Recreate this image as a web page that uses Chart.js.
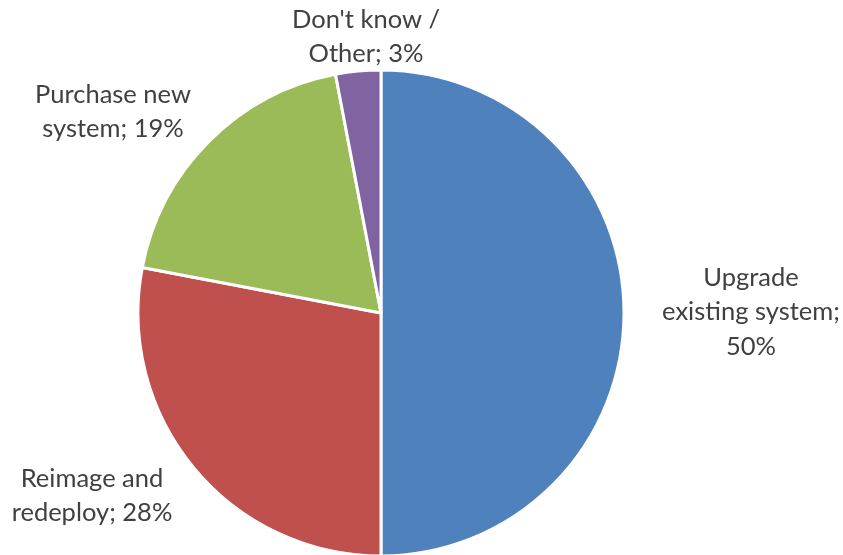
<!DOCTYPE html>
<html>
<head>
<meta charset="utf-8">
<script src="https://cdn.jsdelivr.net/npm/chart.js@4/dist/chart.umd.min.js"></script>
<style>
html,body{margin:0;padding:0;background:#fff;overflow:hidden;}
#wrap{position:relative;width:843px;height:555px;}
</style>
</head>
<body>
<div id="wrap"><canvas id="c" width="843" height="555"></canvas></div>
<script>
const categories = ["Upgrade existing system", "Reimage and redeploy", "Purchase new system", "Don't know / Other"];
const shares = [50, 28, 19, 3];
const sliceColors = ["#4F81BD", "#C0504D", "#9BBB59", "#8064A2"];
const labelLines = [
  ["Upgrade", "existing system;", "50%"],
  ["Reimage and", "redeploy; 28%"],
  ["Purchase new", "system; 19%"],
  ["Don't know /", "Other; 3%"]
];
// label centres (px) and line height
const labelPos = [[751, 312], [92, 496], [113, 112], [366, 37]];
const lineH = 34.5;

const labelPlugin = {
  id: 'sliceLabels',
  afterDatasetsDraw(chart) {
    const ctx = chart.ctx;
    ctx.save();
    ctx.font = '25.5px Lato, "Open Sans", sans-serif';
    ctx.fillStyle = '#404040';
    ctx.textAlign = 'center';
    ctx.textBaseline = 'middle';
    labelLines.forEach((lines, i) => {
      const [x, y] = labelPos[i];
      const y0 = y - (lines.length - 1) * lineH / 2;
      lines.forEach((t, k) => ctx.fillText(t, x, y0 + k * lineH));
    });
    ctx.restore();
  }
};

new Chart(document.getElementById('c'), {
  type: 'pie',
  data: {
    labels: categories,
    datasets: [{
      data: shares,
      backgroundColor: sliceColors,
      borderColor: '#ffffff',
      borderWidth: 3,
      radius: 243
    }]
  },
  options: {
    responsive: false,
    animation: false,
    layout: { padding: { left: 0, right: 81, top: 71, bottom: 0 } },
    plugins: { legend: { display: false }, tooltip: { enabled: false } }
  },
  plugins: [labelPlugin]
});
</script>
</body>
</html>
